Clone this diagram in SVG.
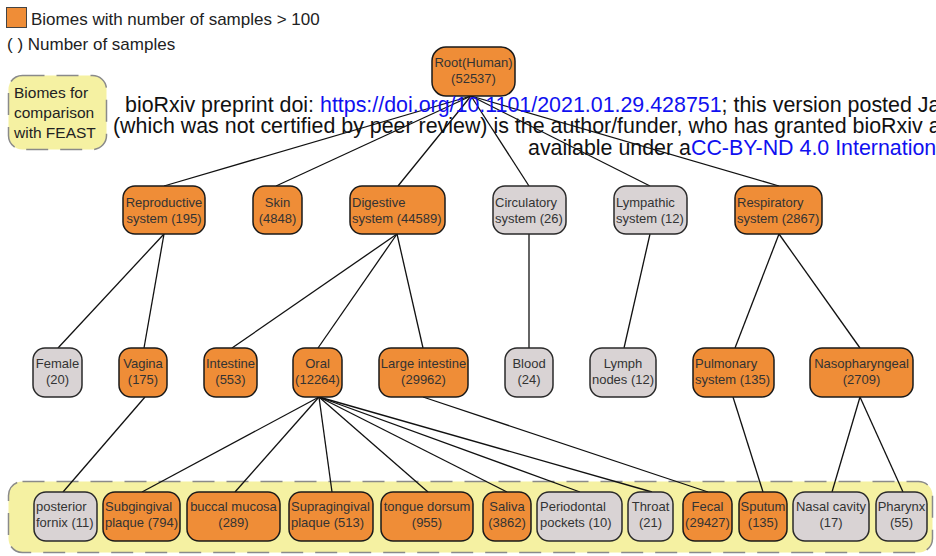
<svg xmlns="http://www.w3.org/2000/svg" width="936" height="556" viewBox="0 0 936 556">
<style>
.o{fill:#ef8d37;stroke:#1a1a1a;stroke-width:1.5}
.g{fill:#d9d3d4;stroke:#2a2a2a;stroke-width:1.5}
.t{font-family:"Liberation Sans",Arial,sans-serif;font-size:13px;fill:#333}
.c{text-anchor:middle}
.band{fill:#f5f1a2;stroke:#8a8a8a;stroke-width:1.5;stroke-dasharray:22 12}
.lg{font-family:"Liberation Sans",Arial,sans-serif;font-size:17px;fill:#222}
.fb{font-family:"Liberation Sans",Arial,sans-serif;font-size:15.5px;fill:#222}
.wm{font-family:"Liberation Sans",Arial,sans-serif;font-size:21.4px;fill:#111}
.lk{fill:#1010f0}
#connectors line{stroke:#111;stroke-width:1.3}
</style>
<rect x="-2" y="-2" width="940" height="560" fill="#fff"/>
<g id="legend">
<rect x="6.5" y="7.5" width="20" height="20" fill="#ef8d37" stroke="#444" stroke-width="1"/>
<text class="lg" x="31" y="25">Biomes with number of samples &gt; 100</text>
<text class="lg" x="7" y="50">( ) Number of samples</text>
</g>
<g id="feast-box">
<rect class="band" x="8.5" y="75.5" width="98" height="74" rx="14"/>
<text class="fb" x="14" y="98">Biomes for</text>
<text class="fb" x="14" y="118">comparison</text>
<text class="fb" x="14" y="138">with FEAST</text>
</g>
<g id="band">
<rect class="band" x="8.5" y="481.5" width="924" height="71" rx="14"/>
</g>
<g id="connectors">
<line x1="471" y1="96" x2="164" y2="186"/>
<line x1="471" y1="96" x2="276" y2="186"/>
<line x1="471" y1="96" x2="398" y2="186"/>
<line x1="471" y1="96" x2="529" y2="186"/>
<line x1="471" y1="96" x2="650" y2="186"/>
<line x1="471" y1="96" x2="779" y2="186"/>
<line x1="164" y1="234" x2="58" y2="348"/>
<line x1="164" y1="234" x2="144" y2="348"/>
<line x1="397" y1="234" x2="232" y2="348"/>
<line x1="397" y1="234" x2="318" y2="348"/>
<line x1="397" y1="234" x2="423" y2="348"/>
<line x1="529" y1="234" x2="529" y2="348"/>
<line x1="650" y1="234" x2="624" y2="348"/>
<line x1="779" y1="234" x2="735" y2="348"/>
<line x1="779" y1="234" x2="860" y2="348"/>
<line x1="145" y1="397" x2="63" y2="492"/>
<line x1="319" y1="397" x2="142" y2="492"/>
<line x1="319" y1="397" x2="235" y2="492"/>
<line x1="319" y1="397" x2="332" y2="492"/>
<line x1="319" y1="397" x2="428" y2="492"/>
<line x1="319" y1="397" x2="507" y2="492"/>
<line x1="319" y1="397" x2="580" y2="492"/>
<line x1="319" y1="397" x2="652" y2="492"/>
<line x1="423" y1="397" x2="708" y2="492"/>
<line x1="733" y1="397" x2="763" y2="492"/>
<line x1="860" y1="397" x2="832" y2="492"/>
<line x1="860" y1="397" x2="903" y2="492"/>
</g>
<g id="root"><rect class="o" x="432" y="47" width="83" height="49" rx="14"/><text class="t c" x="473.5" y="67">Root(Human)</text><text class="t c" x="473.5" y="83">(52537)</text></g>
<g id="reproductive"><rect class="o" x="123" y="186" width="82" height="48" rx="12"/><text class="t c" x="164" y="207">Reproductive</text><text class="t c" x="164" y="223">system (195)</text></g>
<g id="skin"><rect class="o" x="253" y="186" width="49" height="48" rx="12"/><text class="t c" x="277.5" y="207">Skin</text><text class="t c" x="277.5" y="223">(4848)</text></g>
<g id="digestive"><rect class="o" x="350" y="186" width="95" height="48" rx="12"/><text class="t" x="352" y="207">Digestive</text><text class="t" x="352" y="223">system (44589)</text></g>
<g id="circulatory"><rect class="g" x="493" y="186" width="73" height="48" rx="12"/><text class="t" x="495" y="207">Circulatory</text><text class="t" x="495" y="223">system (26)</text></g>
<g id="lympathic"><rect class="g" x="614" y="186" width="73" height="48" rx="12"/><text class="t" x="616" y="207">Lympathic</text><text class="t" x="616" y="223">system (12)</text></g>
<g id="respiratory"><rect class="o" x="735" y="186" width="87" height="48" rx="12"/><text class="t" x="737" y="207">Respiratory</text><text class="t" x="737" y="223">system (2867)</text></g>
<g id="female"><rect class="g" x="33" y="348" width="49" height="49" rx="12"/><text class="t c" x="57.5" y="368">Female</text><text class="t c" x="57.5" y="384">(20)</text></g>
<g id="vagina"><rect class="o" x="119" y="348" width="48" height="49" rx="12"/><text class="t c" x="143" y="368">Vagina</text><text class="t c" x="143" y="384">(175)</text></g>
<g id="intestine"><rect class="o" x="204" y="348" width="53" height="49" rx="12"/><text class="t c" x="230.5" y="368">Intestine</text><text class="t c" x="230.5" y="384">(553)</text></g>
<g id="oral"><rect class="o" x="293" y="348" width="49" height="49" rx="12"/><text class="t c" x="317.5" y="368">Oral</text><text class="t c" x="317.5" y="384">(12264)</text></g>
<g id="large-intestine"><rect class="o" x="379" y="348" width="89" height="49" rx="12"/><text class="t c" x="423.5" y="368">Large intestine</text><text class="t c" x="423.5" y="384">(29962)</text></g>
<g id="blood"><rect class="g" x="505" y="348" width="48" height="49" rx="12"/><text class="t c" x="529" y="368">Blood</text><text class="t c" x="529" y="384">(24)</text></g>
<g id="lymph-nodes"><rect class="g" x="590" y="348" width="66" height="49" rx="12"/><text class="t c" x="623" y="368">Lymph</text><text class="t c" x="623" y="384">nodes (12)</text></g>
<g id="pulmonary"><rect class="o" x="693" y="348" width="81" height="49" rx="12"/><text class="t" x="695" y="368">Pulmonary</text><text class="t" x="695" y="384">system (135)</text></g>
<g id="nasopharyngeal"><rect class="o" x="810" y="348" width="103" height="49" rx="12"/><text class="t c" x="861.5" y="368">Nasopharyngeal</text><text class="t c" x="861.5" y="384">(2709)</text></g>
<g id="posterior-fornix"><rect class="g" x="34" y="492" width="63" height="49" rx="12"/><text class="t" x="36" y="511">posterior</text><text class="t" x="36" y="527">fornix (11)</text></g>
<g id="subgingival"><rect class="o" x="103" y="492" width="77" height="49" rx="12"/><text class="t" x="105" y="511">Subgingival</text><text class="t" x="105" y="527">plaque (794)</text></g>
<g id="buccal-mucosa"><rect class="o" x="187" y="492" width="93" height="49" rx="12"/><text class="t c" x="233.5" y="511">buccal mucosa</text><text class="t c" x="233.5" y="527">(289)</text></g>
<g id="supragingival"><rect class="o" x="289" y="492" width="84" height="49" rx="12"/><text class="t" x="291" y="511">Supragingival</text><text class="t" x="291" y="527">plaque (513)</text></g>
<g id="tongue-dorsum"><rect class="o" x="381" y="492" width="92" height="49" rx="12"/><text class="t c" x="427" y="511">tongue dorsum</text><text class="t c" x="427" y="527">(955)</text></g>
<g id="saliva"><rect class="o" x="483" y="492" width="48" height="49" rx="12"/><text class="t c" x="507" y="511">Saliva</text><text class="t c" x="507" y="527">(3862)</text></g>
<g id="periodontal"><rect class="g" x="537" y="492" width="85" height="49" rx="12"/><text class="t" x="540" y="511">Periodontal</text><text class="t" x="540" y="527">pockets (10)</text></g>
<g id="throat"><rect class="g" x="628" y="492" width="45" height="49" rx="12"/><text class="t c" x="650.5" y="511">Throat</text><text class="t c" x="650.5" y="527">(21)</text></g>
<g id="fecal"><rect class="o" x="683" y="492" width="49" height="49" rx="12"/><text class="t c" x="707.5" y="511">Fecal</text><text class="t c" x="707.5" y="527">(29427)</text></g>
<g id="sputum"><rect class="o" x="739" y="492" width="48" height="49" rx="12"/><text class="t c" x="763" y="511">Sputum</text><text class="t c" x="763" y="527">(135)</text></g>
<g id="nasal-cavity"><rect class="g" x="793" y="492" width="76" height="49" rx="12"/><text class="t c" x="831" y="511">Nasal cavity</text><text class="t c" x="831" y="527">(17)</text></g>
<g id="pharynx"><rect class="g" x="876" y="492" width="51" height="49" rx="12"/><text class="t c" x="901.5" y="511">Pharynx</text><text class="t c" x="901.5" y="527">(55)</text></g>
<g id="watermark">
<text class="wm" x="125" y="112">bioRxiv preprint doi: <tspan class="lk">https://doi.org/10.1101/2021.01.29.428751</tspan>; this version posted Ja</text>
<text class="wm" x="113" y="133">(which was not certified by peer review) is the author/funder, who has granted bioRxiv a</text>
<text class="wm" x="528" y="155">available under a<tspan class="lk">CC-BY-ND 4.0 Internation</tspan></text>
</g>
</svg>
